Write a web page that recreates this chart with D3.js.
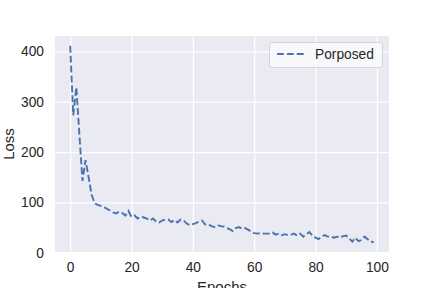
<!DOCTYPE html>
<html>
<head>
<meta charset="utf-8">
<script src="https://cdn.jsdelivr.net/npm/d3@7"></script>
<style>
  body { margin: 0; background: #fff; }
  svg { display: block; font-family: "Liberation Sans", Arial, sans-serif; }
</style>
</head>
<body>
<div id="graph"></div>
<script>
// loss per epoch
var epochs = d3.range(0, 100);
var porposed = [
  411, 273, 329, 235, 143, 184, 150, 115, 98, 95,
  93, 91, 87, 84, 80, 78, 82, 79, 74, 83,
  71, 74, 68, 72, 70, 68, 64, 68, 62, 60,
  64, 66, 66, 61, 65, 60, 66, 64, 58, 55,
  57, 59, 62, 64, 56, 57, 53, 51, 55, 53,
  52, 49, 47, 43, 49, 51, 48, 49, 46, 42,
  39, 38, 39, 38, 38, 38, 40, 36, 38, 35,
  37, 35, 36, 38, 34, 38, 32, 37, 41, 34,
  30, 27, 32, 35, 32, 32, 30, 32, 30, 33,
  34, 28, 22, 30, 23, 25, 32, 27, 22, 21
];
var xTicks = [0, 20, 40, 60, 80, 100];
var yTicks = [0, 100, 200, 300, 400];
var seriesName = "Porposed";

addEventListener("load", function () {
  draw();
});

function draw() {
  var left = 55, right = 389, top = 36, bottom = 252;

  var svg = d3.select("#graph")
      .append("svg")
      .attr("width", 432)
      .attr("height", 288);

  // matplotlib style 5% margins
  var xExt = d3.extent(epochs), yExt = d3.extent(porposed);
  var xPad = (xExt[1] - xExt[0]) * 0.05, yPad = (yExt[1] - yExt[0]) * 0.05;
  var x = d3.scaleLinear()
      .domain([xExt[0] - xPad, xExt[1] + xPad])
      .range([left, right]);
  var y = d3.scaleLinear()
      .domain([yExt[0] - yPad, yExt[1] + yPad])
      .range([bottom, top]);

  svg.append("rect")
    .attr("x", left).attr("y", top)
    .attr("width", right - left).attr("height", bottom - top)
    .attr("fill", "#eaeaf2");

  // grid
  var xAxis = svg.append("g")
    .attr("transform", "translate(0," + bottom + ")")
    .call(d3.axisBottom(x).tickValues(xTicks).tickSize(-(bottom - top)).tickPadding(10));
  var yAxis = svg.append("g")
    .attr("transform", "translate(" + left + ",0)")
    .call(d3.axisLeft(y).tickValues(yTicks).tickSize(-(right - left)).tickPadding(11));

  [xAxis, yAxis].forEach(function (g) {
    g.select(".domain").remove();
    g.selectAll("line").attr("stroke", "#fff").attr("stroke-width", 1.25);
    g.selectAll("text")
      .attr("fill", "#262626")
      .style("font-size", "13.75px")
      .style("font-family", "'Liberation Sans', Arial, sans-serif");
  });

  var line = d3.line()
      .x(function (d, i) { return x(epochs[i]); })
      .y(function (d) { return y(d); });

  svg.append("path")
    .datum(porposed)
    .attr("d", line)
    .attr("fill", "none")
    .attr("stroke", "#4c72b0")
    .attr("stroke-width", 1.9)
    .attr("stroke-dasharray", "6.9,3");

  // axis labels
  svg.append("text")
    .attr("x", (left + right) / 2)
    .attr("y", 292)
    .attr("text-anchor", "middle")
    .attr("fill", "#262626")
    .style("font-size", "15px")
    .text("Epochs");
  svg.append("text")
    .attr("transform", "translate(14," + (top + bottom) / 2 + ") rotate(-90)")
    .attr("text-anchor", "middle")
    .attr("fill", "#262626")
    .style("font-size", "15px")
    .text("Loss");

  // legend
  var lg = svg.append("g");
  lg.append("rect")
    .attr("x", 269.5).attr("y", 42.5)
    .attr("width", 113).attr("height", 25)
    .attr("rx", 3)
    .attr("fill", "#fbfbfc").attr("fill-opacity", 0.8)
    .attr("stroke", "#d4d4d8").attr("stroke-width", 1);
  lg.append("line")
    .attr("x1", 277).attr("x2", 304)
    .attr("y1", 54).attr("y2", 54)
    .attr("stroke", "#4c72b0")
    .attr("stroke-width", 1.9)
    .attr("stroke-dasharray", "6.9,3");
  lg.append("text")
    .attr("x", 315).attr("y", 58.5)
    .attr("fill", "#262626")
    .style("font-size", "13.75px")
    .text(seriesName);
}
</script>
</body>
</html>
